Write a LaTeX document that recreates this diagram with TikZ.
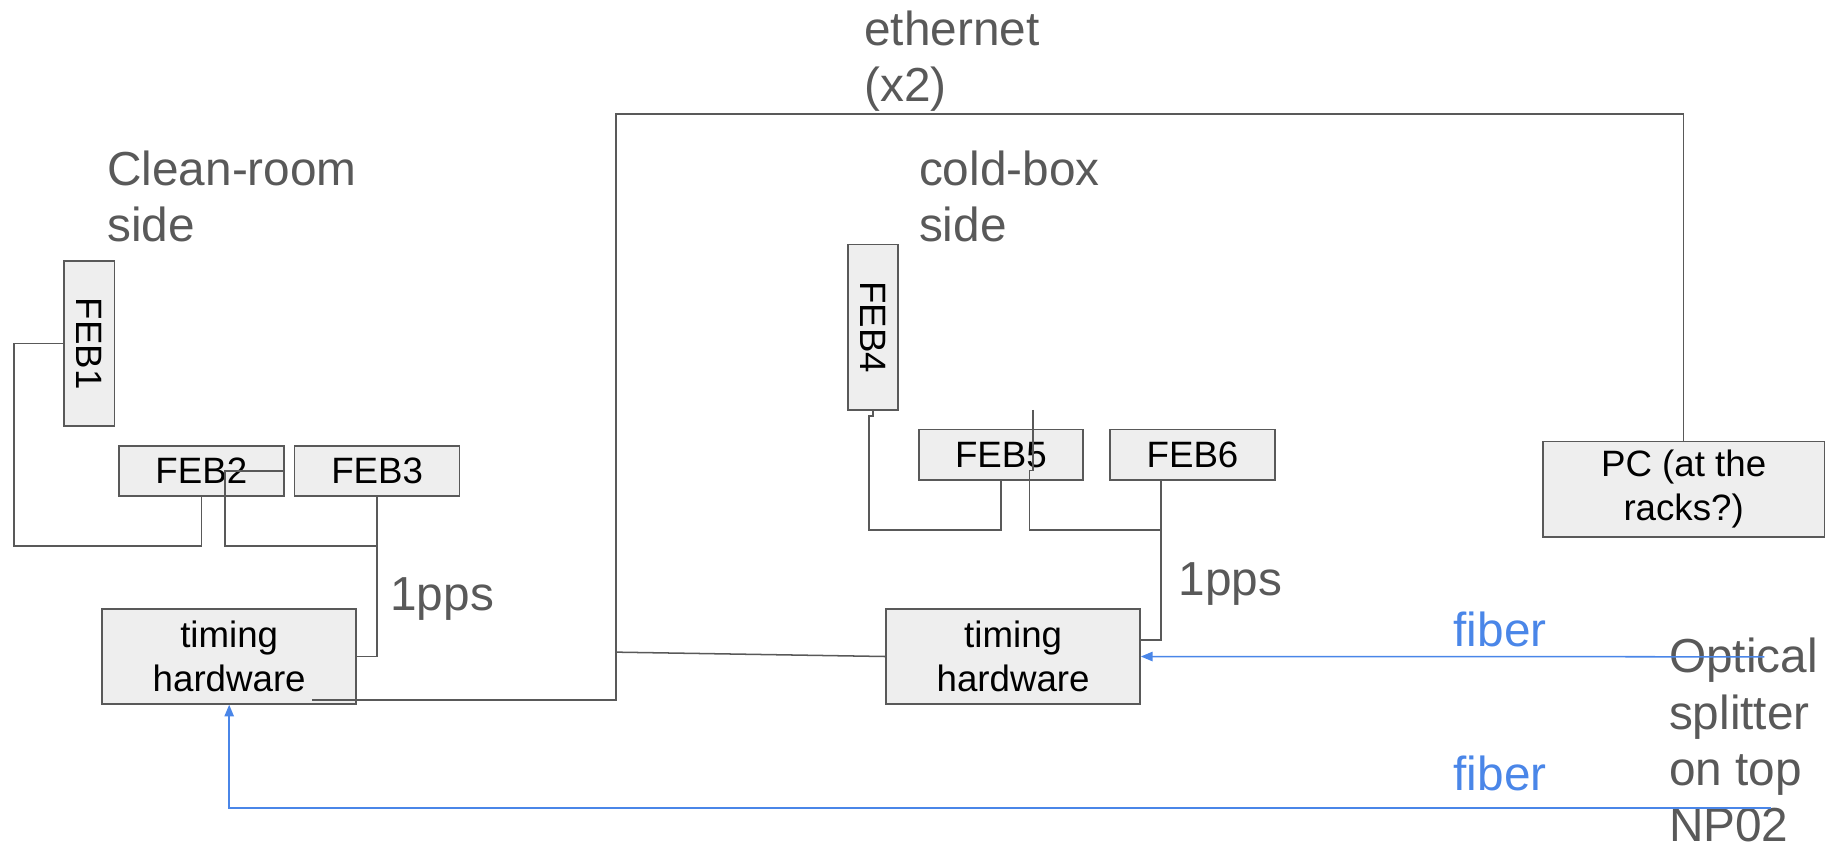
\documentclass[tikz,border=0pt]{standalone}
\usepackage{fontspec}
\setmainfont{Liberation Sans}
\usetikzlibrary{arrows.meta}
\definecolor{lgray}{HTML}{595959}
\definecolor{boxfill}{HTML}{EEEEEE}
\definecolor{gblue}{HTML}{4A86E8}
\begin{document}
\begin{tikzpicture}[x=1pt,y=-1pt,
 box/.style={draw=lgray, fill=boxfill, line width=1.3pt, inner sep=0pt, font=\fontsize{31.5}{37.5}\selectfont, text=black, align=center},
 conn/.style={draw=lgray, line width=1.3pt},
 fiber/.style={draw=gblue, line width=1.3pt, -{Triangle[length=10pt,width=8pt]}},
 lab/.style={text=lgray, font=\fontsize{41}{48}\selectfont, inner sep=0pt, align=left, anchor=base west},
 bluelab/.style={text=gblue, font=\fontsize{41}{48}\selectfont, inner sep=0pt, anchor=base west}]
\useasboundingbox (0,0) rectangle (1568,733);

% labels (base anchor = baseline of the last line)
\node[lab] (eth) at (742,87) {ethernet\\(x2)};
\node[lab] (clean) at (92,207) {Clean-room\\side};
\node[lab] (cold) at (789,207) {cold-box\\side};
\node[lab] (ppsL) at (335,524) {1pps};
\node[lab] (ppsR) at (1012,511) {1pps};
\node[bluelab] (fibT) at (1248,555) {fiber};
\node[bluelab] (fibB) at (1248,678.5) {fiber};

% boxes
\node[box, rotate=-90, minimum width=142, minimum height=43.4] (feb1) at (76.7,295) {FEB1};
\node[box, minimum width=141.7, minimum height=43] (feb2) at (172.9,404.5) {FEB2};
\node[box, minimum width=141.7, minimum height=43] (feb3) at (323.9,404.5) {FEB3};
\node[box, rotate=-90, minimum width=142, minimum height=43] (feb4) at (749.5,281) {FEB4};
\node[box, minimum width=141, minimum height=43] (feb5) at (859.5,390.5) {FEB5};
\node[box, minimum width=142, minimum height=43] (feb6) at (1024,390.5) {FEB6};
\node[box, minimum width=218, minimum height=81.5] (timL) at (196.8,563.75) {timing\\hardware};
\node[box, minimum width=218, minimum height=81.5] (timR) at (870,563.75) {timing\\hardware};
\node[box, minimum width=241.5, minimum height=82] (pc) at (1445.75,420) {PC (at the\\racks?)};

\node[lab, font=\fontsize{41}{48.5}\selectfont] (split) at (1433,723) {Optical\\splitter\\on top\\NP02};

% coordinates
\coordinate (ethL) at (268,601);
\coordinate (ethM) at (529,560);
\coordinate (stray) at (887,352);
\coordinate (srcT) at (1515,564);
\coordinate (srcB) at (1521,694);

% connectors
\draw[conn] (feb1.south) -| (12,469) -| (feb2.south);
\draw[conn] (feb2.east) -| (193,469) -| (feb3.south);
\draw[conn] (feb3.south) |- (timL.east);
\draw[conn] (ethL) -| (529,98) -| (pc.north);
\draw[conn] (ethM) -- (timR.west);
\draw[conn] (feb4.east) -- (749.5,357) -- (746,357) -- (746,455) -| (feb5.south);
\draw[conn] (stray) -- (887,404) -- (884,404) -- (884,455) -| ([xshift=-27pt]feb6.south);
\draw[conn] ([xshift=-27pt]feb6.south) |- ([yshift=-27pt]timR.north east);

% fibers
\draw[fiber] (srcT) -- (timR.east);
\draw[fiber] (srcB) -| (timL.south);
\end{tikzpicture}
\end{document}
